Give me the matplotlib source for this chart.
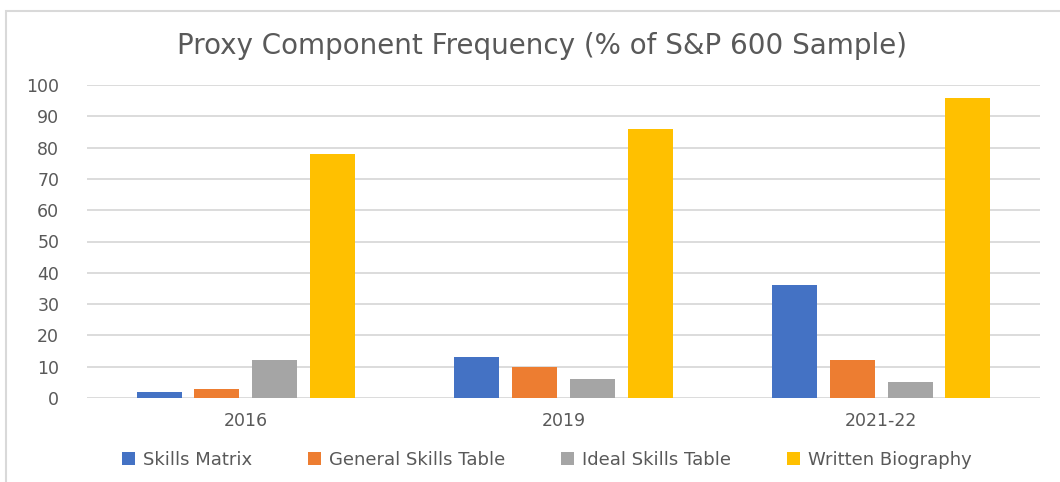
import matplotlib
matplotlib.use("Agg")
import matplotlib.pyplot as plt
import numpy as np
from matplotlib.patches import Rectangle

categories = ["2016", "2019", "2021-22"]
series_names = ["Skills Matrix", "General Skills Table", "Ideal Skills Table", "Written Biography"]
skills_matrix = [2, 13, 36]
general_skills_table = [3, 10, 12]
ideal_skills_table = [12, 6, 5]
written_biography = [78, 86, 96]
colors = ["#4472C4", "#ED7D31", "#A5A5A5", "#FFC000"]
yticks = list(range(0, 101, 10))

plt.rcParams['font.family'] = ['DejaVu Sans']

fig = plt.figure(figsize=(10.6, 4.82), dpi=100)
ax = fig.add_axes([87/1060, 1-398/482, (1040-87)/1060, (398-85)/482])

x = np.arange(len(categories))
data = [skills_matrix, general_skills_table, ideal_skills_table, written_biography]
slot = 0.182
width = 0.142
for i, (vals, name, c) in enumerate(zip(data, series_names, colors)):
    ax.bar(x + (i - 1.5) * slot, vals, width=width, color=c, label=name, zorder=3)

ax.set_xlim(-0.5, 2.5)
ax.set_ylim(0, 100)
ax.set_yticks(yticks)
ax.set_xticks(x)
ax.set_xticklabels(categories)
ax.yaxis.grid(True, color="#D9D9D9", linewidth=1.3, zorder=0)
ax.set_axisbelow(True)
for s in ax.spines.values():
    s.set_visible(False)
ax.tick_params(axis="both", length=0, colors="#595959", labelsize=12.5)
ax.tick_params(axis="y", pad=20)
ax.tick_params(axis="x", pad=10)

fig.text(0.511, 1-46/482, "Proxy Component Frequency (% of S&P 600 Sample)",
         ha="center", va="center", fontsize=20, color="#595959")

leg = fig.legend(loc="center", bbox_to_anchor=(0.516, 1-460/482), ncol=4, frameon=False,
                 fontsize=13, handlelength=0.7, handleheight=0.7, handletextpad=0.45,
                 columnspacing=3.1, labelcolor="#595959")

fig.patches.append(Rectangle((6/1060, -0.2), 1.2, 1.2 - 11/482, transform=fig.transFigure,
                             fill=False, edgecolor="#D9D9D9", linewidth=1.5))

fig.savefig("out.png", dpi=100, facecolor="white")
